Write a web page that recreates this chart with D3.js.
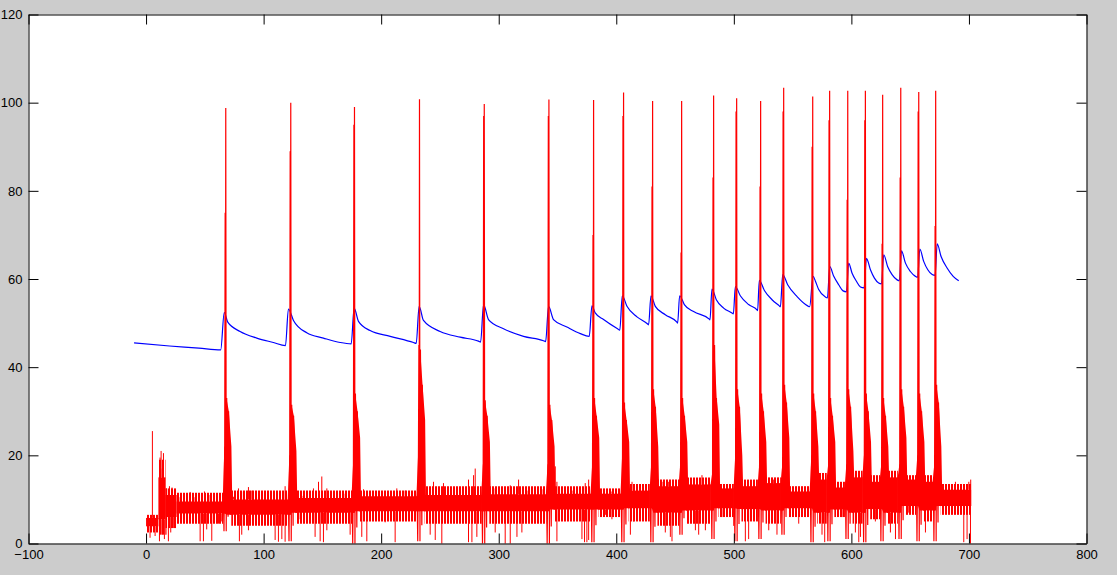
<!DOCTYPE html>
<html>
<head>
<meta charset="utf-8">
<script src="https://cdn.jsdelivr.net/npm/d3@7"></script>
<style>
  html, body { margin: 0; padding: 0; background: #cccccc; }
  svg { display: block; }
</style>
</head>
<body>
<script>
const xTicks = [-100, 0, 100, 200, 300, 400, 500, 600, 700, 800];
const yTicks = [0, 20, 40, 60, 80, 100, 120];

// blue trace (knots along the decays)
const blueX = [-10.2, 20, 45, 63.5, 66.5, 69.5, 80, 94.2, 108.3, 118.6,
  121.1, 125.4, 136.7, 150.9, 165.1, 174.5,
  177, 180.7, 190.6, 207.7, 227.5, 229.8,
  232.3, 236, 250.2, 267.2, 282.8, 284.6,
  287.1, 291.3, 304.1, 321.1, 338.1, 339.9,
  342.4, 346.6, 358, 369.4, 377,
  379.3, 382.1, 389.2, 401.1, 403,
  405.1, 409.1, 417.6, 426.7, 427.5,
  429.5, 433.2, 441.7, 451.6, 452.2,
  453.9, 457.9, 465.8, 479.1, 479.7,
  481.4, 485.1, 491.3, 498.4, 499.6,
  501.3, 505.5, 512.6, 519.7, 520.2,
  521.7, 526, 532.5, 538.7, 539.6,
  541.6, 545.8, 553.8, 562.8, 564.5,
  567.4, 569.4, 572.2, 577.9, 579.6,
  581.6, 585, 589.2, 592.9, 595.8,
  597.7, 600.6, 604.3, 607.7, 610.8,
  612.8, 616.2, 619.6, 623.2, 625.6,
  627.5, 630.9, 634.6, 638.9, 640.8,
  642.6, 646, 650.2, 654.5, 656.4,
  658.2, 661.5, 665, 668.7, 671.2,
  673, 676.3, 681.4, 686.6, 691.3];
const blueY = [45.5, 44.8, 44.3, 43.9, 52.4, 50.2, 48.1, 46.6, 45.6, 44.9,
  53.2, 50.6, 47.8, 46.6, 45.6, 45.3,
  53.4, 50.4, 48.3, 47.0, 45.6, 45.4,
  53.8, 50.6, 48.1, 46.8, 45.9, 45.7,
  54.2, 50.8, 48.7, 47.0, 46.0, 45.8,
  53.8, 50.8, 49.1, 47.6, 47.0,
  53.9, 52.3, 50.8, 48.7, 48.4,
  56.2, 53.8, 51.4, 49.8, 49.6,
  56.2, 53.8, 51.9, 50.2, 50.0,
  56.2, 54.2, 52.6, 50.9, 50.7,
  57.7, 55.3, 53.4, 52.3, 52.1,
  58.3, 56.2, 54.2, 53.0, 52.8,
  59.7, 57.4, 55.3, 53.9, 53.7,
  61.0, 58.7, 56.0, 53.9, 53.7,
  60.6, 59.5, 57.6, 55.9, 55.7,
  62.8, 60.6, 58.7, 57.3, 57.1,
  63.6, 61.3, 59.5, 58.2, 58.0,
  64.7, 62.1, 60.2, 59.1, 58.9,
  65.5, 62.8, 61.0, 59.8, 59.6,
  66.4, 63.6, 61.7, 60.6, 60.4,
  66.8, 64.0, 62.1, 61.0, 60.8,
  68.0, 65.1, 62.5, 60.6, 59.6];

// red trace: spikes
const spikeT = [67.8, 123.1, 177.3, 232.6, 287.7, 342.7, 380.7, 406.2, 430.9, 455.6, 482.8,
  502.4, 522.8, 542.4, 567.1, 581.5, 596.9, 611.9, 626.6, 642.0, 657.3, 671.7];
const spikePeak = [98.8, 100.0, 99.0, 100.8, 99.7, 100.7, 100.6, 102.3, 100.4, 100.4, 101.6,
  101.0, 100.4, 103.4, 101.4, 102.7, 102.7, 102.7, 101.8, 103.4, 102.4, 102.7];
const spikeRise = [75, 89, 95, 45, 97, 97, 70, 97, 81, 66, 83, 98, 81, 98, 90, 96, 78, 96, 68, 83, 98, 72];
const spikePre = [22, 20, 18, 20, 18, 18, 18, 20, 18, 18, 16, 20, 18, 18, 20, 18, 18, 20, 18, 18, 20, 18];
const spikeAdp = [33, 31.5, 34, 44, 32.5, 31.5, 33, 32, 35, 33, 45, 35, 34, 36, 34, 33, 35, 34, 33, 35, 34, 36];
const spikeMid = [30, 29, 30, 36, 29, 28, 29, 28, 31, 29, 33, 31, 30, 32, 30, 29, 31, 30, 29, 31, 30, 32];
const spikeTail = [22, 21, 24, 28, 23, 22, 24, 23, 22, 23, 27, 20, 23, 24, 22, 23, 21, 23, 22, 24, 23, 22];
const spikeDip = [2.8, 0.5, 0, 0.5, 0, 0, 0.3, 0.3, 0.3, 2, 1, 0.5, 1, 2, 0.3, 0.5, 1, 0.3, 0.5, 1, 0.5, 0.5];

// red trace: noise band between spikes (solid core and dense fringe)
const redSegStart = [0, 10.5, 16.5, 26, 72.5, 127.5, 181.5, 237, 292, 347, 385, 410.5, 435,
  460, 487, 506.5, 527, 546.5, 571, 585.5, 601, 616, 630.5, 646, 661.5, 676];
const redSegEnd = [10.5, 16.5, 26, 65.5, 121, 175.5, 230.5, 285.5, 340.5, 378.5, 404, 428.5, 453.5,
  480.5, 500, 520.5, 540, 565, 579, 594.5, 609.5, 624.5, 639.5, 655, 669.5, 702];
const redCoreLo = [3.9, 5.5, 6, 6.8, 6.5, 7, 7.3, 7.3, 7.3, 7.7, 7.7, 8, 7, 7.5, 8, 7.8, 7.5, 8,
  7, 7.7, 7, 7.8, 7, 8.5, 7.5, 8.5];
const redCoreHi = [5.8, 15, 11, 9.5, 10, 10.3, 10.7, 11, 11.2, 11.3, 11.3, 12, 13, 13.4, 12.5, 13,
  13.7, 11.8, 14.5, 12.7, 15, 14, 15, 14.5, 14, 12.2];
const redFringeLo = [2.5, 2, 3.5, 4.5, 4, 4.5, 5, 4.5, 4.5, 5, 6, 5, 4, 4.5, 6, 5, 4.5, 6,
  4.5, 6, 4.5, 5.5, 4.5, 6.5, 5, 6.5];
const redFringeHi = [6.5, 19, 12.5, 11.5, 12, 12, 12, 13, 13, 13, 12.5, 13.5, 14.5, 15, 13.5, 14.5,
  15, 13, 16, 14, 16.5, 15.5, 16.5, 15.5, 15.5, 13.5];

// red trace: single excursions above / below the band
const redUpX = [5.4, 11.9, 12.8, 14.8, 13.8, 17.6, 19.9, 22.1, 24.4, 29, 37.5, 41.7, 47.4, 49.7,
  54.5, 60.2, 74.3, 78.6, 82.8, 87.1, 90, 95.6, 104.1, 111.2, 118.3, 132.5, 142.4, 146.7, 149.5,
  153.8, 162.3, 169.4, 185, 193.5, 203.4, 213.3, 220.4, 244.5, 253, 264.4, 274.3, 278.6, 280,
  297, 309.8, 316.9, 324, 336.7, 348.1, 349.5, 362.3, 373.6, 376.5, 396.3, 413.4, 438.9, 444.6,
  472.9, 509.8, 533.9, 688.5, 699.9, 701.5];
const redUpY = [25.5, 19.5, 21, 20.5, 17, 12.5, 13, 12.7, 12, 10.5, 11.7, 10.5, 11.3, 11.8,
  11, 10.2, 10.6, 12.5, 11.8, 12.8, 12, 10.5, 11.8, 11, 13, 10.8, 12.5, 14, 15.2,
  12.5, 11, 11.3, 12.3, 11.5, 11, 12.5, 12, 14, 13.7, 11.5, 14.5, 15.5, 17,
  12.5, 13.2, 14.5, 12, 12.3, 17.5, 14, 12, 13.7, 14.5, 11.8, 14, 14, 14,
  15.5, 14, 14.5, 14, 14, 14.5];
const redDipX = [3.4, 7.7, 11.4, 13.4, 15.6, 17, 19, 21, 23.5, 31.8, 46, 48.8, 51.6, 55.9, 61.6,
  64.4, 79.4, 81.4, 87.1, 91.4, 101.3, 109.8, 112.6, 115.5, 118.3, 131.1, 143.8, 148.1, 150.9,
  153.8, 165.1, 173.6, 183.5, 187.8, 203.4, 211.9, 219, 229, 241.7, 246, 251.6, 261.6, 274.3,
  277.2, 281.4, 297, 305.5, 309.8, 315.5, 319.7, 338.2, 349.5, 359.4, 370.8, 373, 375, 376.5,
  390.7, 396.3, 412, 414.8, 441.7, 446, 447.4, 467.3, 470.1, 475.8, 489.9, 499.9, 509.8, 512.6,
  529.7, 536.7, 555.2, 560.9, 575, 577.3, 592.1, 603.4, 606.3, 607.7, 620.4, 633.2, 637.5,
  648.8, 663, 695.6, 698.4, 701.3];
const redDipY = [1.3, 1.7, 0.5, 2, 1, 2, 0.5, 2.5, 3.5, 5.5, 0.5, 0.5, 3.2, 0.6, 4.5,
  5, 0.5, 2, 3, 6, 5.5, 0.8, 0.4, 1, 0.4, 5.5, 1.5, 0.5, 0.3,
  3, 5.5, 2, 1.5, 0.5, 4.8, 0.3, 5.3, 6, 2, 0.8, 0, 5.5, 0.3,
  0.3, 1.5, 2.5, 0, 0, 1.5, 2.5, 5.5, 0.5, 5.5, 1, 0.3, 0.3, 0.8,
  6.5, 5.5, 2, 5, 2.5, 1.5, 0.5, 3, 2, 3, 6, 4, 0.5, 1,
  3, 2, 4.5, 6, 2, 0.3, 6, 2.5, 0.3, 1.5, 5, 2.5, 1,
  7, 2.5, 0.3, 1, 0];

const width = 1117;
const height = 575;
const plotLeft = 28.5;
const plotRight = 1086.5;
const plotTop = 14.5;
const plotBottom = 543.5;

const xScale = d3.scaleLinear().domain([-100, 800]).range([plotLeft, plotRight]);
const yScale = d3.scaleLinear().domain([0, 120]).range([plotBottom, plotTop]);

const svg = d3
  .select("body")
  .append("svg")
  .attr("width", width)
  .attr("height", height)
  .style("background", "#cccccc");

// dense vertical hatching stands in for the fast noise in the fringe
svg
  .append("defs")
  .append("pattern")
  .attr("id", "noise")
  .attr("patternUnits", "userSpaceOnUse")
  .attr("width", 3)
  .attr("height", 6)
  .append("rect")
  .attr("width", 2)
  .attr("height", 6)
  .attr("fill", "#ff0000");

svg
  .append("rect")
  .attr("x", plotLeft)
  .attr("y", plotTop)
  .attr("width", plotRight - plotLeft)
  .attr("height", plotBottom - plotTop)
  .attr("fill", "#ffffff");

const plot = svg.append("g");

// blue
const blueLine = d3
  .line()
  .x((d) => xScale(blueX[d]))
  .y((d) => yScale(blueY[d]))
  .curve(d3.curveMonotoneX);

plot
  .append("path")
  .attr("d", blueLine(d3.range(blueX.length)))
  .attr("fill", "none")
  .attr("stroke", "#0000ff")
  .attr("stroke-width", 1.2);

// red band
const segOf = (x) => {
  let best = 0;
  let bestD = Infinity;
  redSegStart.forEach((s, i) => {
    const e = redSegEnd[i];
    const d = x < s ? s - x : x > e ? x - e : 0;
    if (d < bestD) {
      bestD = d;
      best = i;
    }
  });
  return best;
};

const bandArea = d3
  .area()
  .x((d) => xScale(d[0]))
  .y0((d) => yScale(d[1]))
  .y1((d) => yScale(d[2]));

plot
  .selectAll("path.fringe")
  .data(redSegStart)
  .join("path")
  .attr("class", "fringe")
  .attr("d", (s, i) =>
    bandArea([
      [s, redFringeLo[i], redFringeHi[i]],
      [redSegEnd[i], redFringeLo[i], redFringeHi[i]],
    ])
  )
  .attr("fill", "url(#noise)");

plot
  .selectAll("path.band")
  .data(redSegStart)
  .join("path")
  .attr("class", "band")
  .attr("d", (s, i) =>
    bandArea([
      [s, redCoreLo[i], redCoreHi[i]],
      [redSegEnd[i], redCoreLo[i], redCoreHi[i]],
    ])
  )
  .attr("fill", "#ff0000");

// red excursions
const excursions = [
  ...redUpX.map((x, i) => [x, redCoreHi[segOf(x)], redUpY[i]]),
  ...redDipX.map((x, i) => [x, redCoreLo[segOf(x)], redDipY[i]]),
];

plot
  .selectAll("line.exc")
  .data(excursions)
  .join("line")
  .attr("class", "exc")
  .attr("x1", (d) => xScale(d[0]))
  .attr("x2", (d) => xScale(d[0]))
  .attr("y1", (d) => yScale(d[1]))
  .attr("y2", (d) => yScale(d[2]))
  .attr("stroke", "#ff0000")
  .attr("stroke-width", 1);

// red spikes: burst before, spike itself, and the after-potential block
plot
  .selectAll("path.adp")
  .data(spikeT)
  .join("path")
  .attr("class", "adp")
  .attr("d", (t, i) => {
    const pre = segOf(t - 3);
    const post = segOf(t + 7);
    return bandArea([
      [t - 2.6, redCoreLo[pre], redCoreHi[pre]],
      [t - 1.2, redCoreLo[pre], spikePre[i]],
      [t - 0.6, redCoreLo[pre], spikePre[i]],
      [t + 0.6, redCoreLo[post], spikeAdp[i]],
      [t + 2.6, redCoreLo[post], spikeMid[i]],
      [t + 4.8, redCoreLo[post], spikeTail[i]],
      [t + 5.5, redCoreLo[post], redCoreHi[post]],
    ]);
  })
  .attr("fill", "#ff0000");

const redLine = d3
  .line()
  .x((d) => xScale(d[0]))
  .y((d) => yScale(d[1]));

plot
  .selectAll("path.spike")
  .data(spikeT)
  .join("path")
  .attr("class", "spike")
  .attr("d", (t, i) => {
    const pre = segOf(t - 3);
    const post = segOf(t + 7);
    return redLine([
      [t - 2, redCoreHi[pre]],
      [t - 1.5, spikeDip[i]],
      [t - 0.9, spikePre[i]],
      [t - 0.5, spikeRise[i]],
      [t - 0.3, redCoreLo[pre]],
      [t, spikePeak[i]],
      [t + 0.4, spikeDip[i]],
      [t + 0.8, spikeAdp[i]],
      [t + 2.0, spikeDip[i] + redCoreLo[post] / 2],
      [t + 2.4, spikeMid[i]],
      [t + 4.2, redCoreLo[post]],
    ]);
  })
  .attr("fill", "none")
  .attr("stroke", "#ff0000")
  .attr("stroke-width", 1.2);

// axes: box with inward ticks on all four sides
const font = "'Liberation Sans', Arial, sans-serif";

const axes = [
  [d3.axisBottom(xScale).tickValues(xTicks), `translate(0 ${plotBottom})`],
  [d3.axisTop(xScale).tickValues(xTicks).tickFormat(""), `translate(0 ${plotTop})`],
  [d3.axisLeft(yScale).tickValues(yTicks), `translate(${plotLeft} 0)`],
  [d3.axisRight(yScale).tickValues(yTicks).tickFormat(""), `translate(${plotRight} 0)`],
];

axes.forEach(([axis, transform]) => {
  const g = svg
    .append("g")
    .attr("transform", transform)
    .call(axis.tickSizeInner(-10).tickSizeOuter(0).tickPadding(6));
  g.select(".domain").attr("stroke", "#000000").attr("stroke-width", 1);
  g.selectAll(".tick line").attr("stroke", "#000000");
  g.selectAll("text")
    .attr("fill", "#000000")
    .attr("font-family", font)
    .attr("font-size", 13);
});
</script>
</body>
</html>
